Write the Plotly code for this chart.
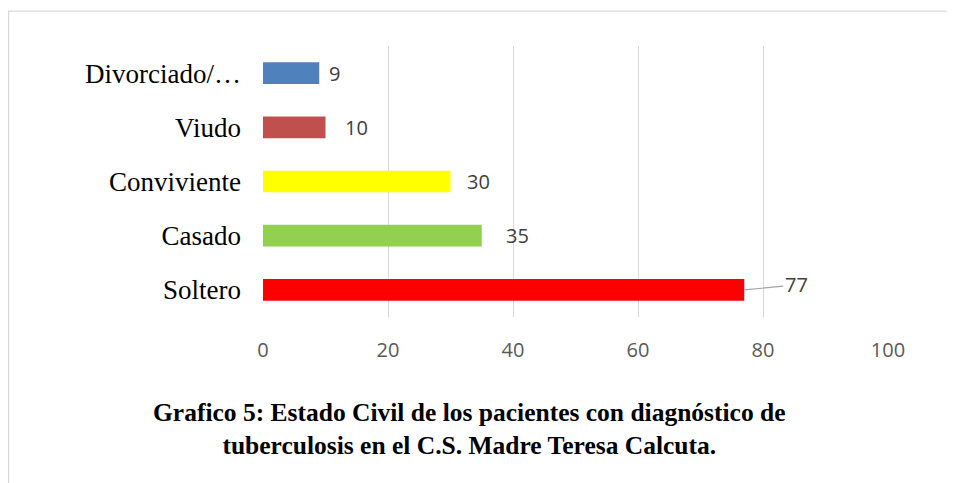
import plotly.graph_objects as go

# data (bottom to top, as drawn)
categorias = ["Soltero", "Casado", "Conviviente", "Viudo", "Divorciado/…"]
pacientes = [77, 35, 30, 10, 9]
colores = ["#FF0000", "#92D050", "#FFFF00", "#C0504D", "#4F81BD"]
x_ticks = [0, 20, 40, 60, 80, 100]

# offsets of the data labels (pixels to the right of the bar end)
label_shift = [0, 22, 14, 17, 8]

titulo = ("<b>Grafico 5: Estado Civil de los pacientes con diagnóstico de<br>"
          "tuberculosis en el C.S. Madre Teresa Calcuta.</b>")

fig = go.Figure()
fig.add_trace(go.Bar(x=pacientes, y=categorias, orientation="h",
                     marker=dict(color=colores, line=dict(width=0)),
                     width=0.4, hoverinfo="x+y"))

# data labels
for cat, val, dx in zip(categorias, pacientes, label_shift):
    if val == max(pacientes):
        # label pulled out with a leader line
        fig.add_annotation(x=val, y=cat, text=str(val), showarrow=True,
                           arrowhead=0, arrowwidth=1.2, arrowcolor="#A6A6A6",
                           ax=52, ay=-5, xanchor="center", standoff=0,
                           font=dict(family="Open Sans", size=20, color="#404040"))
    else:
        fig.add_annotation(x=val, y=cat, text=str(val), showarrow=False,
                           xanchor="left", xshift=dx,
                           font=dict(family="Open Sans", size=20, color="#404040"))

# title below the plot
fig.add_annotation(x=0.331, y=-0.413, xref="paper", yref="paper", text=titulo,
                   showarrow=False, align="center", xanchor="center",
                   yanchor="middle",
                   font=dict(family="Liberation Serif", size=25.5, color="black"))

# outer chart frame
fig.add_shape(type="rect", xref="paper", yref="paper",
              x0=-0.407, x1=1.2, y0=-0.7, y1=1.129,
              line=dict(color="#D9D9D9", width=1.2), layer="below")

fig.update_xaxes(range=[0, 100], tickvals=x_ticks, showgrid=True,
                 gridcolor="#D9D9D9", gridwidth=1.3, zeroline=False,
                 showline=False, ticks="", ticklabelstandoff=19,
                 tickfont=dict(family="Open Sans", size=20, color="#595959"))
fig.update_yaxes(showgrid=False, zeroline=False, showline=False, ticks="",
                 ticklabelstandoff=21,
                 tickfont=dict(family="Liberation Serif", size=27, color="black"))

# page has an 8px body margin, so the figure is 8px smaller each way
fig.update_layout(width=947, height=475, showlegend=False,
                  plot_bgcolor="white", paper_bgcolor="white",
                  bargap=0.6,
                  margin=dict(l=255, r=67, t=38, b=166))

fig.write_html("out.html")
